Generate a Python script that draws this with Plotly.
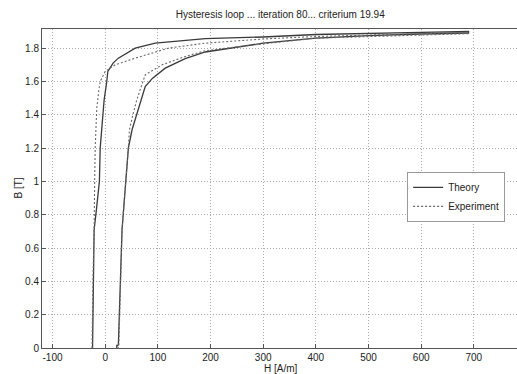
import plotly.graph_objects as go

# Theory loop (left branch bottom->tip, then right branch tip->bottom)
theory_H = [-24, -23, -22, -21, -16, -11, -9.5, -2, 3, 5, 15, 25, 57, 95, 190, 300, 400, 500, 600, 690,
            690, 600, 500, 400, 300, 190, 152, 114, 90, 76, 63, 51, 44, 39, 35, 32, 25, 24, 22, 22]
theory_B = [0.0, 0.3, 0.44, 0.71, 0.85, 1.0, 1.2, 1.49, 1.6, 1.66, 1.71, 1.74, 1.80, 1.83, 1.857, 1.867, 1.882, 1.89, 1.895, 1.90,
            1.89, 1.885, 1.875, 1.86, 1.83, 1.777, 1.737, 1.68, 1.62, 1.57, 1.44, 1.31, 1.2, 1.0, 0.8, 0.71, 0.02, 0.015, 0.015, 0.0]

# Experiment loop
exp_H = [-25, -24, -23, -21, -21, -20, -19, -16, -12, -9.5, 0, 19, 57, 120, 190, 300, 400, 500, 600, 690,
         690, 600, 500, 400, 300, 190, 152, 108, 76, 60, 52.6, 46, 44, 39, 35, 32, 26, 25]
exp_B = [0.0, 0.3, 0.44, 0.71, 0.85, 1.0, 1.2, 1.44, 1.55, 1.6, 1.66, 1.70, 1.74, 1.80, 1.83, 1.855, 1.87, 1.88, 1.89, 1.895,
         1.887, 1.88, 1.87, 1.86, 1.826, 1.785, 1.75, 1.70, 1.64, 1.49, 1.4, 1.31, 1.2, 1.0, 0.8, 0.71, 0.02, 0.0]

x_ticks = [-100, 0, 100, 200, 300, 400, 500, 600, 700]
y_ticks = [0, 0.2, 0.4, 0.6, 0.8, 1, 1.2, 1.4, 1.6, 1.8]
y_tick_labels = ["0", "0.2", "0.4", "0.6", "0.8", "1", "1.2", "1.4", "1.6", "1.8"]

FONT = "Liberation Sans Narrow, Arial Narrow, Liberation Sans, Arial, sans-serif"
FS = 10

fig = go.Figure()
fig.add_trace(go.Scatter(x=theory_H, y=theory_B, mode="lines", name="Theory",
                         line=dict(color="#3a3a3a", width=1.3)))
fig.add_trace(go.Scatter(x=exp_H, y=exp_B, mode="lines", name="Experiment",
                         line=dict(color="#6a6a6a", width=1.1, dash="2px,2px")))

fig.add_annotation(text="H [A/m]", xref="paper", yref="paper", x=0.503, y=0,
                   xanchor="center", yanchor="top", yshift=-13, showarrow=False,
                   font=dict(family=FONT, size=FS, color="#222"))
fig.add_annotation(text="B [T]", xref="paper", yref="paper", x=0, y=0.5,
                   xanchor="center", yanchor="middle", xshift=-24, textangle=-90,
                   showarrow=False, font=dict(family=FONT, size=FS, color="#222"))

fig.update_layout(
    width=517, height=374,
    margin=dict(l=42, r=0, t=29, b=26, autoexpand=False),
    paper_bgcolor="white", plot_bgcolor="white",
    font=dict(family=FONT, size=FS, color="#222"),
    title=dict(text="Hysteresis loop ... iteration 80... criterium 19.94",
               x=0.542, xanchor="center", y=0.96, yanchor="middle",
               font=dict(family=FONT, size=FS, color="#222")),
    showlegend=True,
    legend=dict(x=0.975, y=0.552, xanchor="right", yanchor="top",
                bgcolor="white", bordercolor="#999", borderwidth=1,
                font=dict(family=FONT, size=FS, color="#222"),
                tracegroupgap=0, itemwidth=30),
    xaxis=dict(range=[-120, 782], tickvals=x_ticks, ticktext=[str(v) for v in x_ticks],
               showgrid=True, gridcolor="#aaaaaa", griddash="1px,2px", gridwidth=1,
               showline=True, linecolor="#555", linewidth=1, mirror=True,
               ticks="inside", ticklen=4, tickcolor="#555", automargin=False,
               zeroline=False, tickfont=dict(family=FONT, size=FS, color="#222")),
    yaxis=dict(range=[0, 1.915], tickvals=y_ticks, ticktext=y_tick_labels,
               showgrid=True, gridcolor="#aaaaaa", griddash="1px,2px", gridwidth=1,
               showline=True, linecolor="#555", linewidth=1, mirror=False,
               ticks="inside", ticklen=4, tickcolor="#555", automargin=False,
               zeroline=False, tickfont=dict(family=FONT, size=FS, color="#222")),
)

fig.write_html("out.html", config={"displayModeBar": False},
               post_script="document.body.style.margin='0px';document.body.style.padding='0px';")
